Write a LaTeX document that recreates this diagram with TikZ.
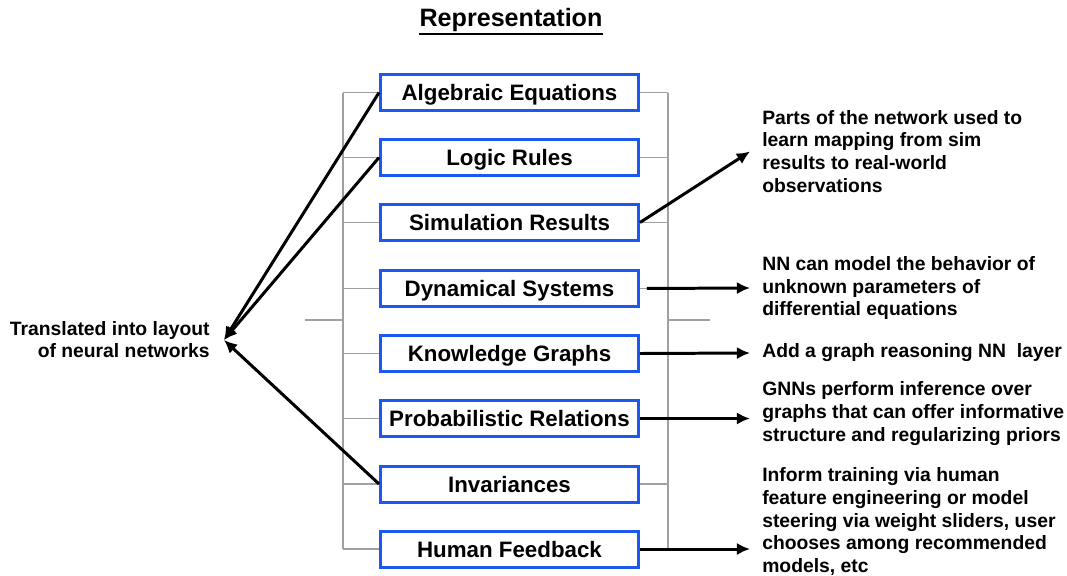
\documentclass[tikz,border=0pt]{standalone}
\usepackage{fontspec}
\setmainfont{Liberation Sans}
\usetikzlibrary{arrows.meta}
\definecolor{boxblue}{RGB}{28,88,240}
\definecolor{bargray}{RGB}{160,160,160}
\tikzset{
  repbox/.style={draw=boxblue, line width=1.7pt, fill=white, minimum width=5.16cm, minimum height=0.72cm, inner sep=0pt, text height=9.1pt, text depth=0pt, font=\fontsize{12.7}{15}\selectfont\bfseries},
  note/.style={anchor=west, align=left, inner xsep=6.8pt, inner ysep=0pt, font=\fontsize{11}{13}\selectfont\bfseries},
  arr/.style={-{Latex[length=7.5pt,width=7pt]}, line width=1.7pt},
  bracket/.style={draw=bargray, line width=1pt}
}

\begin{document}
\begin{tikzpicture}[x=0.02cm, y=-0.02cm]
            \useasboundingbox (0,0) rectangle (1067,575);
            % Title
            \node[inner sep=0pt, font=\fontsize{14.3}{17}\selectfont\bfseries] (title) at (511,20) {Representation};
            \draw[line width=1.2pt] ([yshift=-1pt]title.south west) -- ([yshift=-1pt]title.south east);

            % Representation boxes
            \node[repbox] (alg) at (509.5,92.5) {Algebraic Equations};
            \node[repbox] (logic) at (509.5,157.5) {Logic Rules};
            \node[repbox] (sim) at (509.5,222.5) {Simulation Results};
            \node[repbox] (dyn) at (509.5,288.5) {Dynamical Systems};
            \node[repbox] (kg) at (509.5,353.5) {Knowledge Graphs};
            \node[repbox] (prob) at (509.5,418.5) {Probabilistic Relations};
            \node[repbox] (inv) at (509.5,484) {Invariances};
            \node[repbox] (human) at (509.5,549) {Human Feedback};

            % Gray brackets
            \coordinate (lbar) at (343,0);
            \coordinate (rbar) at (668,0);
            \coordinate (lmid) at (305,320);
            \coordinate (rmid) at (710,320);
            \draw[bracket] (alg.west -| lbar) -- (human.west -| lbar);
            \draw[bracket] (alg.east -| rbar) -- (human.east -| rbar);
            \foreach \n in {alg,logic,sim,dyn,kg,prob,inv,human} {
                \draw[bracket] (\n.west) -- (\n.west -| lbar);
                \draw[bracket] (\n.east) -- (\n.east -| rbar);
            }
            \draw[bracket] (lmid) -- (lmid -| lbar);
            \draw[bracket] (rmid) -- (rmid -| rbar);

            % Left text
            \node[note, anchor=east, align=right, inner xsep=8pt, font=\fontsize{11}{12.5}\selectfont\bfseries] (trans) at (224,340) {Translated into layout\\of neural networks};

            % Right texts
            \node[note] (parts) at (750,151.5) {Parts of the network used to\\learn mapping from sim\\results to real-world\\observations};
            \node[note] (nnmodel) at (750,288) {NN can model the behavior of\\unknown parameters of\\differential equations};
            \node[note] (addgraph) at (750,353) {Add a graph reasoning NN~ layer};
            \node[note] (gnns) at (750,413.5) {GNNs perform inference over\\graphs that can offer informative\\structure and regularizing priors};
            \node[note] (inform) at (750,521.5) {Inform training via human\\feature engineering or model\\steering via weight sliders, user\\chooses among recommended\\models, etc};

            % Arrows
            \draw[arr] (alg.west) -- (trans.east);
            \draw[arr] (logic.west) -- (trans.east);
            \draw[arr] (inv.west) -- (trans.east);
            \draw[arr] (sim.east) -- (parts.west);
            \draw[arr, shorten <=0.14cm] (dyn.east) -- (nnmodel.west);
            \draw[arr] (kg.east) -- (addgraph.west);
            \draw[arr] (prob.east) -- (gnns.west |- prob.east);
            \draw[arr] (human.east) -- (inform.west |- human.east);
        \end{tikzpicture}
\end{document}
